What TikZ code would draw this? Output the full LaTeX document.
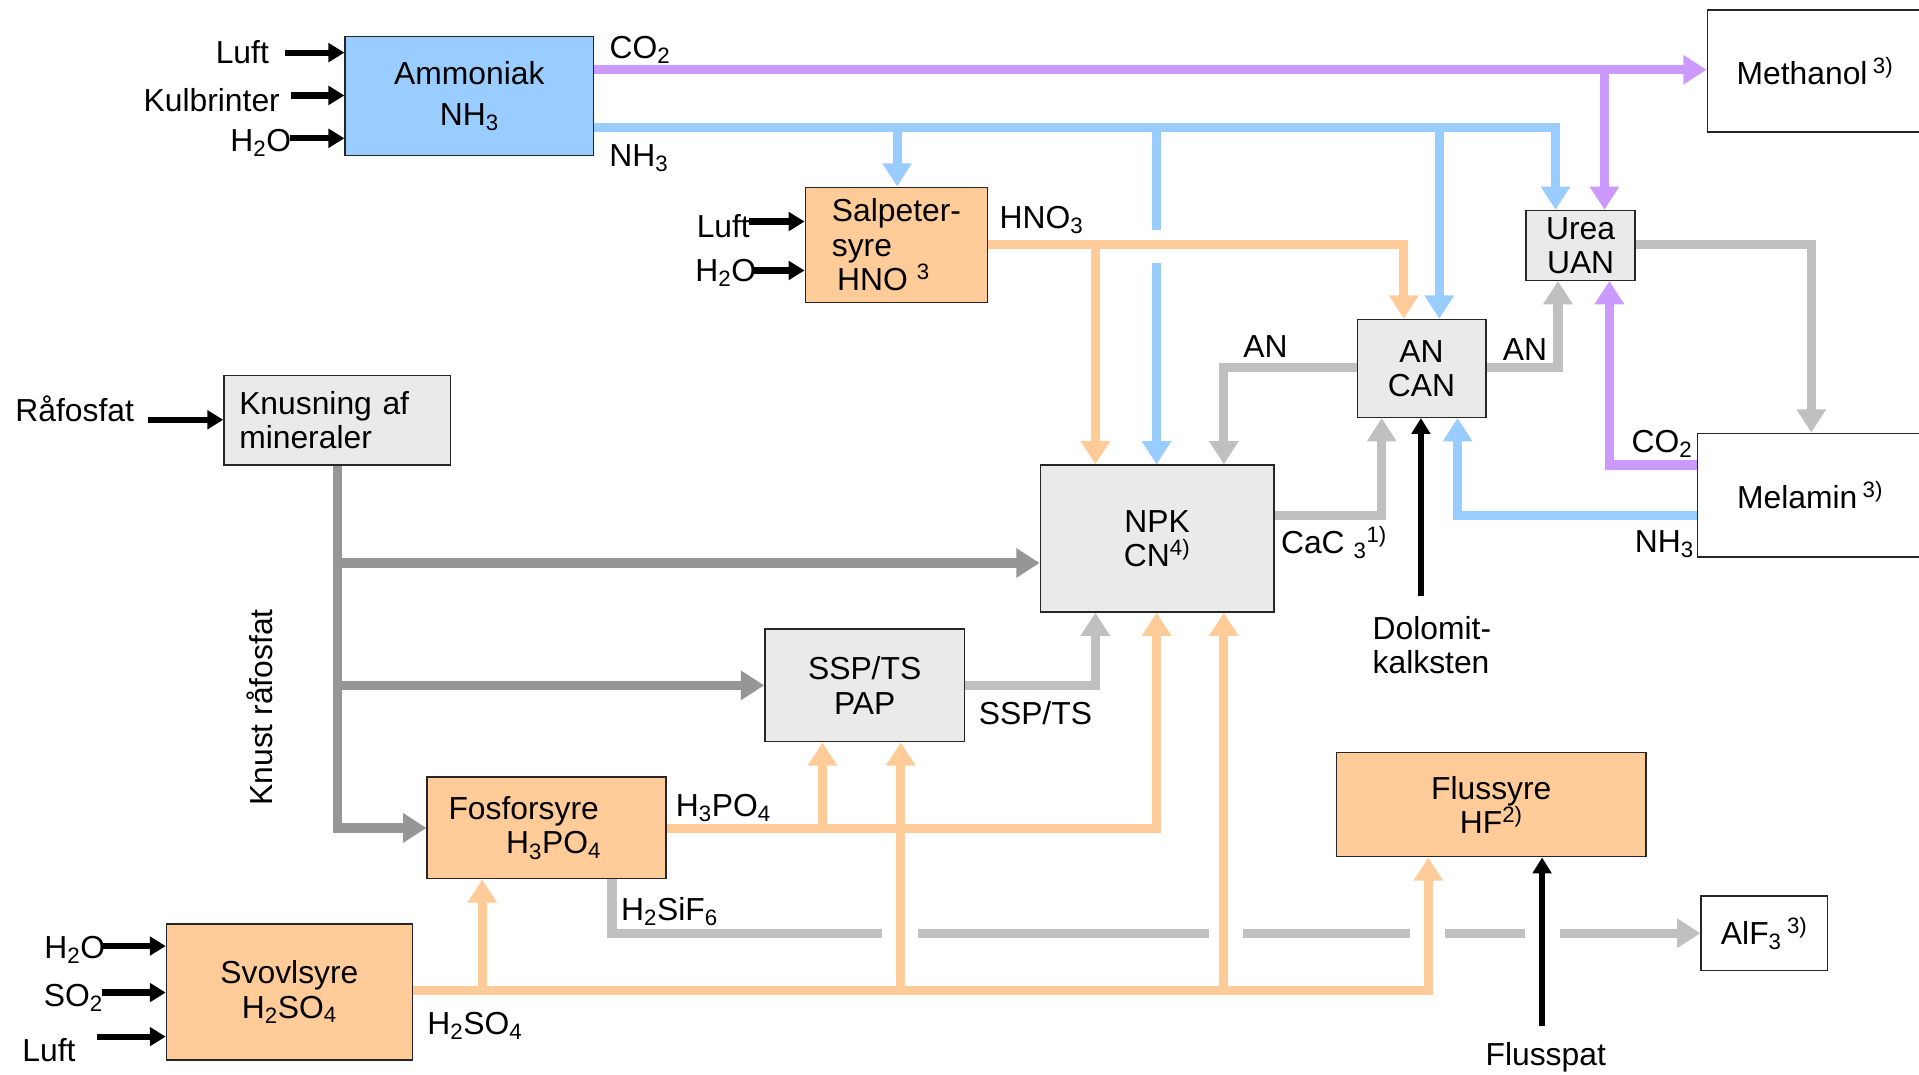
\documentclass[tikz,border=0pt]{standalone}
\usepackage{fontspec}
\setmainfont{Liberation Sans}
\usetikzlibrary{arrows.meta}
\definecolor{cpurple}{HTML}{CC99FF}
\definecolor{cblue}{HTML}{99CCFF}
\definecolor{corange}{HTML}{FFCC99}
\definecolor{cgrayL}{HTML}{C0C0C0}
\definecolor{cgrayD}{HTML}{969696}
\definecolor{cbox}{HTML}{EAEAEA}
\newcommand\dgfont{\fontsize{26}{28}\selectfont}
\newcommand\sbs[1]{\textsubscript{#1}}
\newcommand\sps[1]{\textsuperscript{#1}}
\begin{document}
\begin{tikzpicture}[x=1pt,y=-1pt,
  box/.style={draw=black!85, line width=1.2pt, inner sep=0pt, align=center, font=\dgfont},
  bluebox/.style={box, fill=cblue},
  orbox/.style={box, fill=corange},
  grbox/.style={box, fill=cbox},
  whbox/.style={box, fill=white},
  pipe/.style={line width=7.5pt},
  flow/.style={pipe, -{Triangle[length=19pt,width=23pt]}},
  feed/.style={line width=5pt, black, -{Triangle[length=13pt,width=15pt]}},
  lbl/.style={font=\dgfont, inner sep=0pt},
  gapfill/.style={fill=white}
]
\useasboundingbox (0,0) rectangle (1568,878);
\clip (0,0) rectangle (1568,878);
\fill[white] (0,0) rectangle (1568,878);

% boxes
\node[bluebox, minimum width=203pt, minimum height=97pt] (amm) at (383.5,78.5) {Ammoniak\\[6pt]NH\sbs{3}};
\node[whbox, minimum width=176pt, minimum height=100pt] (meth) at (1483,58) {Methanol\,\sps{3)}};
\node[orbox, minimum width=149pt, minimum height=94pt, align=left] (salp) at (732.5,200) {Salpeter-\\syre\\\,HNO \sps{3}};
\node[grbox, minimum width=89pt, minimum height=57pt] (urea) at (1291.5,200.5) {Urea\\UAN};
\node[grbox, minimum width=105pt, minimum height=80pt] (ancan) at (1161.5,301) {AN\\CAN};
\node[grbox, minimum width=185pt, minimum height=73pt, text width=160pt, align=left] (knus) at (275.5,343.5) {Knusning af\\mineraler};
\node[grbox, minimum width=191pt, minimum height=120pt] (npk) at (945.5,440) {NPK\\CN\sps{4)}};
\node[whbox, minimum width=184pt, minimum height=101pt] (mel) at (1479,404.5) {Melamin\,\sps{3)}};
\node[grbox, minimum width=163pt, minimum height=92pt] (ssp) at (706.5,560) {SSP/TS\\PAP};
\node[orbox, minimum width=195pt, minimum height=83pt, text width=160pt, align=left] (fosf) at (446.5,676.5) {Fosforsyre\\\hspace*{47pt}H\sbs{3}PO\sbs{4}};
\node[orbox, minimum width=253pt, minimum height=85pt] (flus) at (1218.5,657.5) {Flussyre\\HF\sps{2)}};
\node[whbox, minimum width=103pt, minimum height=61pt] (alf) at (1441.5,762.5) {AlF\sbs{3}\,\sps{3)}};
\node[orbox, minimum width=201pt, minimum height=111pt] (svov) at (236.5,810.5) {Svovlsyre\\H\sbs{2}SO\sbs{4}};

% junctions and free ends
\coordinate (jp) at (1311,57);
\coordinate (jb1) at (733,104);
\coordinate (jb2) at (945,104);
\coordinate (jb3) at (1176,104);
\coordinate (jo1) at (895,200);
\coordinate (jo2) at (672,677);
\coordinate (jo3) at (394,809);
\coordinate (jo4) at (736,809);
\coordinate (jo5) at (1000,809);
\coordinate (jg1) at (275.5,460);
\coordinate (jg2) at (275.5,560);

% H2SiF6 dashed-look line
\draw[pipe, cgrayL, -{Triangle[length=19pt,width=23pt]}] (500,0 |- fosf.south) |- (alf.west);
\fill[gapfill] (721,754) rectangle (750,770);
\fill[gapfill] (988,754) rectangle (1016,770);
\fill[gapfill] (1152,754) rectangle (1181,770);
\fill[gapfill] (1246,754) rectangle (1275,770);

% blue NH3
\draw[flow, cblue] (amm.east |- jb1) -| (1271,0 |- urea.north);
\draw[flow, cblue] (jb1) -- (jb1 |- salp.north);
\draw[flow, cblue] (jb2) -- (jb2 |- npk.north);
\draw[flow, cblue] (jb3) -- (jb3 |- ancan.north);
\draw[flow, cblue] (mel.west |- 0,421) -| (1191,0 |- ancan.south);
\fill[gapfill] (938,188) rectangle (953,215);

% purple CO2
\draw[flow, cpurple] (amm.east |- jp) -- (meth.west |- jp);
\draw[flow, cpurple] (jp) -- (jp |- urea.north);
\draw[flow, cpurple] (mel.west |- 0,380) -| (1315,0 |- urea.south);

% orange acids
\draw[flow, corange] (salp.east |- jo1) -| (1147,0 |- ancan.north);
\draw[flow, corange] (jo1) -- (jo1 |- npk.north);
\draw[flow, corange] (fosf.east |- jo2) -| (945,0 |- npk.south);
\draw[flow, corange] (jo2) -- (jo2 |- ssp.south);
\draw[flow, corange] (svov.east |- jo3) -| (1167,0 |- flus.south);
\draw[flow, corange] (jo3) -- (jo3 |- fosf.south);
\draw[flow, corange] (jo4) -- (jo4 |- ssp.south);
\draw[flow, corange] (jo5) -- (jo5 |- npk.south);

% dark gray crushed phosphate
\draw[flow, cgrayD] (knus.south) |- (fosf.west);
\draw[flow, cgrayD] (jg1) -- (npk.west |- jg1);
\draw[flow, cgrayD] (jg2) -- (ssp.west);

% light gray products
\draw[flow, cgrayL] (ssp.east) -| (895,0 |- npk.south);
\draw[flow, cgrayL] (ancan.west |- 0,300) -| (1000,0 |- npk.north);
\draw[flow, cgrayL] (ancan.east |- 0,300) -| (1273,0 |- urea.south);
\draw[flow, cgrayL] (npk.east |- 0,421) -| (1129,0 |- ancan.south);
\draw[flow, cgrayL] (urea.east |- 0,200) -| (1480,0 |- mel.north);

% black feeds
\coordinate (fLuftA) at (233,43);
\coordinate (fKul) at (238,78);
\coordinate (fH2OA) at (237,113);
\coordinate (fLuftS) at (612,181);
\coordinate (fH2OS) at (616,221);
\coordinate (fRaa) at (121,343);
\coordinate (fH2OV) at (83,773);
\coordinate (fSO2) at (83,811);
\coordinate (fLuftV) at (79,847);
\coordinate (fDol) at (1161,487);
\coordinate (fFlus) at (1260,838);
\draw[feed] (fLuftA) -- (amm.west |- fLuftA);
\draw[feed] (fKul) -- (amm.west |- fKul);
\draw[feed] (fH2OA) -- (amm.west |- fH2OA);
\draw[feed] (fLuftS) -- (salp.west |- fLuftS);
\draw[feed] (fH2OS) -- (salp.west |- fH2OS);
\draw[feed] (fRaa) -- (knus.west |- fRaa);
\draw[feed] (fH2OV) -- (svov.west |- fH2OV);
\draw[feed] (fSO2) -- (svov.west |- fSO2);
\draw[feed] (fLuftV) -- (svov.west |- fLuftV);
\draw[feed] (fDol) -- (fDol |- ancan.south);
\draw[feed] (fFlus) -- (fFlus |- flus.south);

% labels
\node[lbl] (tLuftA) at (198,43) {Luft};
\node[lbl] (tKul) at (173,82) {Kulbrinter};
\node[lbl] (tH2OA) at (213,117) {H\sbs{2}O};
\node[lbl] (tCO2a) at (523,41) {CO\sbs{2}};
\node[lbl] (tNH3a) at (522,129) {NH\sbs{3}};
\node[lbl] (tLuftS) at (591,185) {Luft};
\node[lbl] (tH2OS) at (593,223) {H\sbs{2}O};
\node[lbl] (tHNO3) at (851,180) {HNO\sbs{3}};
\node[lbl] (tAN1) at (1034,283) {AN};
\node[lbl] (tAN2) at (1246,286) {AN};
\node[lbl] (tCO2b) at (1358,363) {CO\sbs{2}};
\node[lbl] (tNH3b) at (1360,445) {NH\sbs{3}};
\node[lbl] (tCaC) at (1090,443) {CaC\ \sbs{3}\sps{1)}};
\node[lbl, align=left] (tDol) at (1170,527) {Dolomit-\\kalksten};
\node[lbl] (tRaa) at (61,334) {Råfosfat};
\node[lbl, rotate=90] (tKnust) at (212,578) {Knust råfosfat};
\node[lbl] (tSSP) at (846,583) {SSP/TS};
\node[lbl] (tH3PO4) at (591,660) {H\sbs{3}PO\sbs{4}};
\node[lbl] (tH2SiF6) at (547,745) {H\sbs{2}SiF\sbs{6}};
\node[lbl] (tH2SO4) at (388,838) {H\sbs{2}SO\sbs{4}};
\node[lbl] (tH2OV) at (61,776) {H\sbs{2}O};
\node[lbl] (tSO2) at (60,815) {SO\sbs{2}};
\node[lbl] (tLuftV) at (40,858) {Luft};
\node[lbl] (tFlusspat) at (1263,864) {Flusspat};
\end{tikzpicture}
\end{document}
